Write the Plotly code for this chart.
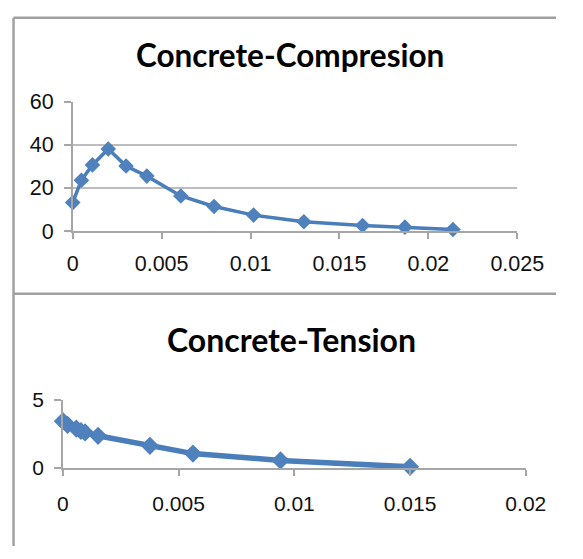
import plotly.graph_objects as go

# ---- data ----
comp_strain = [0.0, 0.00049, 0.00111, 0.00200, 0.00300, 0.00417, 0.00608, 0.00795,
               0.01017, 0.01300, 0.01630, 0.01868, 0.02138]
comp_stress = [13.2, 23.6, 30.7, 38.1, 30.2, 25.5, 16.3, 11.4, 7.4, 4.3, 2.6, 1.8, 0.7]

ten_strain = [0.0, 0.0002, 0.00058, 0.00078, 0.00096, 0.00152, 0.00376, 0.00562, 0.0094, 0.0150]
ten_stress = [3.42, 3.15, 2.88, 2.70, 2.60, 2.35, 1.62, 1.05, 0.55, 0.08]

comp_xticks = [0, 0.005, 0.01, 0.015, 0.02, 0.025]
comp_xtext = ["0", "0.005", "0.01", "0.015", "0.02", "0.025"]
comp_yticks = [0, 20, 40, 60]
ten_xticks = [0, 0.005, 0.01, 0.015, 0.02]
ten_xtext = ["0", "0.005", "0.01", "0.015", "0.02"]
ten_yticks = [0, 5]

titles = ["Concrete-Compresion", "Concrete-Tension"]

W, H = 583, 559
LINE = "#4a7ebb"
MARK = "#4f81bd"
GRID = "#bdbdbd"
AX = "#a6a6a6"


def px(x):
    return x / W


def py(y):
    return 1 - y / H


fig = go.Figure()
fig.add_trace(go.Scatter(x=comp_strain, y=comp_stress, mode="lines+markers",
                         line=dict(color=LINE, width=3.5),
                         marker=dict(symbol="diamond", size=12, color=MARK),
                         cliponaxis=False,
                         xaxis="x", yaxis="y", showlegend=False))
fig.add_trace(go.Scatter(x=ten_strain, y=ten_stress, mode="lines+markers",
                         line=dict(color=LINE, width=5.5),
                         marker=dict(symbol="diamond", size=14, color=MARK),
                         cliponaxis=False,
                         xaxis="x2", yaxis="y2", showlegend=False))

tickfont_top = dict(family="Arial, Liberation Sans", size=21.5, color="#111")
tickfont_bot = dict(family="Arial, Liberation Sans", size=21, color="#111")

common_x = dict(showgrid=False, zeroline=False, showline=True, linecolor=AX, linewidth=1.5,
                ticks="outside", ticklen=6, tickcolor=AX, tickwidth=1.5)
common_y = dict(showgrid=True, gridcolor=GRID, gridwidth=1.5, zeroline=False, showline=True,
                linecolor=AX, linewidth=1.5, ticks="outside", ticklen=7, tickcolor=AX,
                tickwidth=1.5)

fig.update_layout(
    width=W, height=H, margin=dict(l=0, r=0, t=0, b=0),
    paper_bgcolor="white", plot_bgcolor="white",
    xaxis=dict(common_x, domain=[px(70.7), px(542)], range=[0, 0.025],
               tickvals=comp_xticks, ticktext=comp_xtext, anchor="y",
               tickfont=tickfont_top, ticklabelstandoff=6),
    yaxis=dict(common_y, domain=[py(229.3), py(94)], range=[0, 60],
               tickvals=comp_yticks, anchor="x", tickfont=tickfont_top, ticklabelstandoff=6),
    xaxis2=dict(common_x, domain=[px(60.3), px(551)], range=[0, 0.02],
                tickvals=ten_xticks, ticktext=ten_xtext, anchor="y2",
                tickfont=tickfont_bot, ticklabelstandoff=10),
    yaxis2=dict(common_y, domain=[py(477.3), py(405.7)], range=[0, 5],
                tickvals=ten_yticks, anchor="x2", tickfont=tickfont_bot, ticklabelstandoff=6),
)

# titles
fig.add_annotation(text="<b>" + titles[0] + "</b>", xref="paper", yref="paper",
                   x=px(301), y=py(45), xanchor="center", yanchor="middle", showarrow=False,
                   font=dict(family="Lato", size=31.5, color="black"))
fig.add_annotation(text="<b>" + titles[1] + "</b>", xref="paper", yref="paper",
                   x=px(303), y=py(343), xanchor="center", yanchor="middle", showarrow=False,
                   font=dict(family="Lato", size=32, color="black"))

# frame lines
frame = dict(color="#a0a0a0", width=2.5)
fig.add_shape(type="line", xref="paper", yref="paper", x0=px(8), x1=px(8), y0=py(6), y1=0, line=frame)
fig.add_shape(type="line", xref="paper", yref="paper", x0=px(8), x1=1, y0=py(6), y1=py(6), line=frame)
fig.add_shape(type="line", xref="paper", yref="paper", x0=px(8), x1=1, y0=py(295), y1=py(295), line=frame)

fig.write_html("out.html")
